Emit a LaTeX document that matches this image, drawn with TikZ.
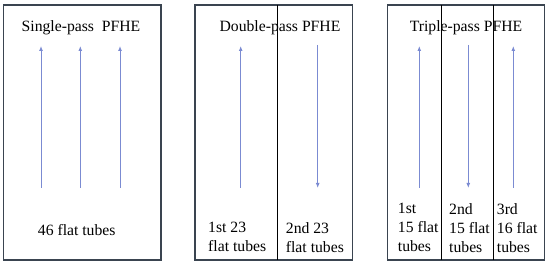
\documentclass[tikz,border=0pt]{standalone}
\usepackage{fontspec}
\setmainfont{Liberation Serif}
\usetikzlibrary{arrows.meta}
\definecolor{flow}{HTML}{7B8BD2}
\definecolor{frame}{HTML}{3A4450}
\begin{document}
\begin{tikzpicture}[x=1pt,y=-1pt,
  panel/.style={draw=frame,line width=1.1pt},
  divider/.style={draw=black,line width=1pt},
  flowarrow/.style={draw=flow,line width=1pt,-{Latex[length=5pt,width=4pt]}},
  lbl/.style={font=\fontsize{15.7}{19}\selectfont,inner sep=0pt,align=left},
  ttl/.style={font=\fontsize{15.7}{19}\selectfont,inner sep=0pt,anchor=base}]
\useasboundingbox (0,0) rectangle (550,267);
% panels
\draw[panel] (3.3,5) rectangle (161,260);
\draw[panel] (195,5) rectangle (352.3,260);
\draw[panel] (387.7,5) rectangle (544.3,260);
\draw[divider] (277.7,5) -- (277.7,260);
\draw[divider] (441.7,5) -- (441.7,260);
\draw[divider] (493.7,5) -- (493.7,260);
% titles
\node[ttl] (t1) at (81,32) {Single-pass\ \ PFHE};
\node[ttl] (t2) at (280,32) {Double-pass PFHE};
\node[ttl] (t3) at (466,32) {Triple-pass PFHE};
% arrows
\coordinate (a1s) at (41,188); \coordinate (a1e) at (41,46);
\coordinate (a2s) at (80.3,188); \coordinate (a2e) at (80.3,46);
\coordinate (a3s) at (120,188); \coordinate (a3e) at (120,46);
\coordinate (b1s) at (240.7,188); \coordinate (b1e) at (240.7,46);
\coordinate (b2s) at (317.7,45); \coordinate (b2e) at (317.7,188);
\coordinate (c1s) at (419.3,188); \coordinate (c1e) at (419.3,46);
\coordinate (c2s) at (468.3,45); \coordinate (c2e) at (468.3,188);
\coordinate (c3s) at (513.3,188); \coordinate (c3e) at (513.3,46);
\draw[flowarrow] (a1s) -- (a1e);
\draw[flowarrow] (a2s) -- (a2e);
\draw[flowarrow] (a3s) -- (a3e);
\draw[flowarrow] (b1s) -- (b1e);
\draw[flowarrow] (b2s) -- (b2e);
\draw[flowarrow] (c1s) -- (c1e);
\draw[flowarrow] (c2s) -- (c2e);
\draw[flowarrow] (c3s) -- (c3e);
% labels
\node[lbl,anchor=base west] (l1) at (37.7,236) {46 flat tubes};
\node[lbl,anchor=north west] (l2) at (208,222) {1st 23\\flat tubes};
\node[lbl,anchor=north west] (l3) at (285.7,222) {2nd 23\\flat tubes};
\node[lbl,anchor=north west] (l4) at (397.7,203) {1st\\15 flat\\tubes};
\node[lbl,anchor=north west] (l5) at (449,203) {2nd\\15 flat\\tubes};
\node[lbl,anchor=north west] (l6) at (496.7,203) {3rd\\16 flat\\tubes};
\end{tikzpicture}
\end{document}
